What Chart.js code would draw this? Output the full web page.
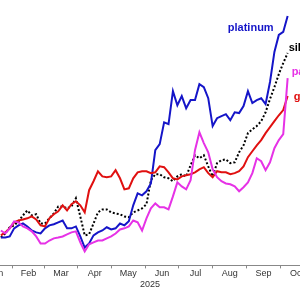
<!DOCTYPE html>
<html>
<head>
<meta charset="utf-8">
<script src="https://cdn.jsdelivr.net/npm/chart.js@4"></script>
<style>
  html, body { margin: 0; padding: 0; background: #fff; overflow: hidden; }
  #wrap { width: 300px; height: 300px; }
</style>
</head>
<body>
<div id="wrap"><canvas id="metals-chart" width="300" height="300"></canvas></div>
<script>
// day of year (0 = 1 Jan 2025) for each sample
var days = [20, 24, 28, 32, 36, 40, 44, 48, 52, 56, 60, 64, 68, 72, 76, 80, 84, 88, 92, 96,
    100, 104, 108, 112, 116, 120, 124, 128, 132, 136, 140, 144, 148, 152, 156, 160, 164, 168, 172, 176,
    180, 184, 188, 192, 196, 200, 204, 208, 212, 216, 220, 224, 228, 232, 236, 240, 244, 248, 252, 256,
    260, 264, 268, 272, 276, 280];

// % change since early January
var platinum = [-1.9, -1.9, -1.5, 1.5, 2.6, 3.3, 2.2, 0.7, 0, -0.4, 1.5, 2.6, 3.0, 3.7, 4.4, 1.5, 1.5, 2.2, -1.5, -5.6,
    -4.1, -1.1, 0, 0.7, 1.9, 1.1, 1.5, 3.3, 2.6, 4.1, 10.0, 14.4, 13.7, 15.2, 18.1, 30.4, 32.6, 40.7, 40.0, 52.2,
    47.0, 50.4, 45.9, 48.9, 48.9, 54.8, 53.7, 49.6, 39.3, 42.2, 43.0, 43.7, 41.5, 44.4, 44.1, 46.7, 52.2, 47.8, 48.9, 49.6,
    47.4, 55.6, 66.7, 73.0, 74.1, 80.0];
var silver = [-1.9, -0.4, 1.9, 2.6, 4.1, 6.3, 8.1, 6.3, 6.7, 3.3, 3.3, 5.2, 7.0, 9.6, 9.6, 8.9, 9.6, 12.6, 5.9, -1.1,
    -0.7, 3.3, 7.4, 8.5, 8.5, 7.4, 7.0, 6.7, 5.9, 5.6, 7.4, 8.1, 8.9, 10.4, 19.3, 21.5, 21.5, 20.4, 20.0, 18.9,
    20.7, 21.5, 20.7, 24.8, 28.5, 27.4, 28.5, 24.4, 20.7, 25.6, 26.7, 27.0, 25.6, 25.9, 29.6, 32.2, 36.7, 38.1, 39.3, 41.1,
    44.4, 49.3, 53.7, 58.5, 62.6, 66.3];
var palladium = [0.7, -0.4, 1.5, 4.1, 3.7, 2.2, 1.5, 0.4, -1.5, -4.1, -4.1, -3.0, -2.2, -1.9, -1.5, -0.7, 0, 0.4, -3.7, -7.0,
    -4.4, -3.7, -3.0, -3.0, -2.2, -1.5, -0.4, 1.1, 1.5, 2.2, 4.4, 3.7, 0.7, 5.2, 8.9, 10.7, 9.3, 9.3, 8.5, 13.3,
    18.5, 17.0, 15.9, 19.3, 30.4, 37.0, 33.0, 29.6, 23.3, 20.4, 18.9, 18.1, 17.8, 17.0, 15.2, 16.7, 18.5, 21.9, 27.4, 26.3,
    23.0, 25.9, 31.1, 34.1, 36.3, 57.0];
var gold = [-1.1, 0, 1.5, 3.7, 4.4, 4.8, 5.2, 5.9, 4.8, 2.6, 2.2, 5.2, 6.7, 7.8, 10.0, 8.1, 10.4, 11.5, 10.0, 7.4,
    15.6, 18.9, 22.6, 20.7, 20.4, 20.7, 23.0, 20.0, 15.9, 16.3, 20.0, 22.2, 22.6, 22.6, 21.9, 22.2, 24.4, 24.1, 22.2, 20.0,
    19.6, 20.7, 21.1, 21.5, 22.2, 23.3, 24.1, 21.9, 20.4, 22.6, 22.2, 22.2, 21.5, 21.9, 22.6, 24.4, 27.8, 30.0, 32.2, 34.1,
    36.7, 38.9, 41.1, 43.3, 45.2, 50.4];

var monthLabels = ["Jan", "Feb", "Mar", "Apr", "May", "Jun", "Jul", "Aug", "Sep", "Oct"];
var monthMid = [15.5, 45, 74.5, 105, 135.5, 166, 196.5, 227.5, 258, 288.5];

function points(values) {
    return values.map(function (v, i) { return { x: days[i], y: v }; });
}

var FONT = "Arial, 'Liberation Sans', sans-serif";

// name written next to the end of each line
var endLabels = {
    id: "endLabels",
    afterDatasetsDraw: function (chart) {
        var ctx = chart.ctx;
        ctx.save();
        ctx.font = "bold 11px " + FONT;
        ctx.textBaseline = "middle";
        chart.data.datasets.forEach(function (ds, i) {
            var meta = chart.getDatasetMeta(i);
            var last = meta.data[meta.data.length - 1];
            var off = ds.labelOffset;
            ctx.fillStyle = ds.borderColor;
            ctx.textAlign = off[0] < 0 ? "right" : "left";
            ctx.fillText(ds.label, last.x + off[0], last.y + off[1]);
        });
        ctx.restore();
    }
};

var ctx = document.getElementById("metals-chart").getContext("2d");
var chart = new Chart(ctx, {
    type: "line",
    data: {
        datasets: [
            { label: "palladium", data: points(palladium), borderColor: "#e632e6", labelOffset: [4, -6] },
            { label: "gold", data: points(gold), borderColor: "#e01010", labelOffset: [6, 1] },
            { label: "platinum", data: points(platinum), borderColor: "#1515c8", labelOffset: [-14, 12] },
            { label: "silver", data: points(silver), borderColor: "#000000", borderDash: [2, 2], labelOffset: [1, -5] }
        ]
    },
    options: {
        responsive: false,
        animation: false,
        layout: { padding: 0 },
        elements: {
            line: { borderWidth: 2, tension: 0, fill: false },
            point: { radius: 0 }
        },
        plugins: {
            legend: { display: false },
            tooltip: { enabled: false }
        },
        scales: {
            x: {
                type: "linear",
                bounds: "data",
                min: 19.2,
                max: 291.2,
                afterBuildTicks: function (scale) {
                    scale.ticks = monthMid.map(function (v) { return { value: v }; });
                },
                afterFit: function (scale) {
                    // let the end labels run off the page like the original
                    scale.paddingLeft = 0;
                    scale.paddingRight = 0;
                },
                grid: { offset: true, drawOnChartArea: false, tickLength: 3, color: "#888" },
                border: { color: "#888", width: 1 },
                ticks: {
                    autoSkip: false,
                    maxRotation: 0,
                    padding: 0,
                    color: "#333",
                    font: { family: FONT, size: 9 },
                    callback: function (value, index) { return monthLabels[index]; }
                },
                title: {
                    display: true,
                    text: "2025",
                    color: "#333",
                    font: { family: FONT, size: 9 },
                    padding: { top: 0, bottom: 10 }
                }
            },
            y: {
                display: false,
                min: -12.2,
                max: 85.9
            }
        }
    },
    plugins: [endLabels]
});
</script>
</body>
</html>
